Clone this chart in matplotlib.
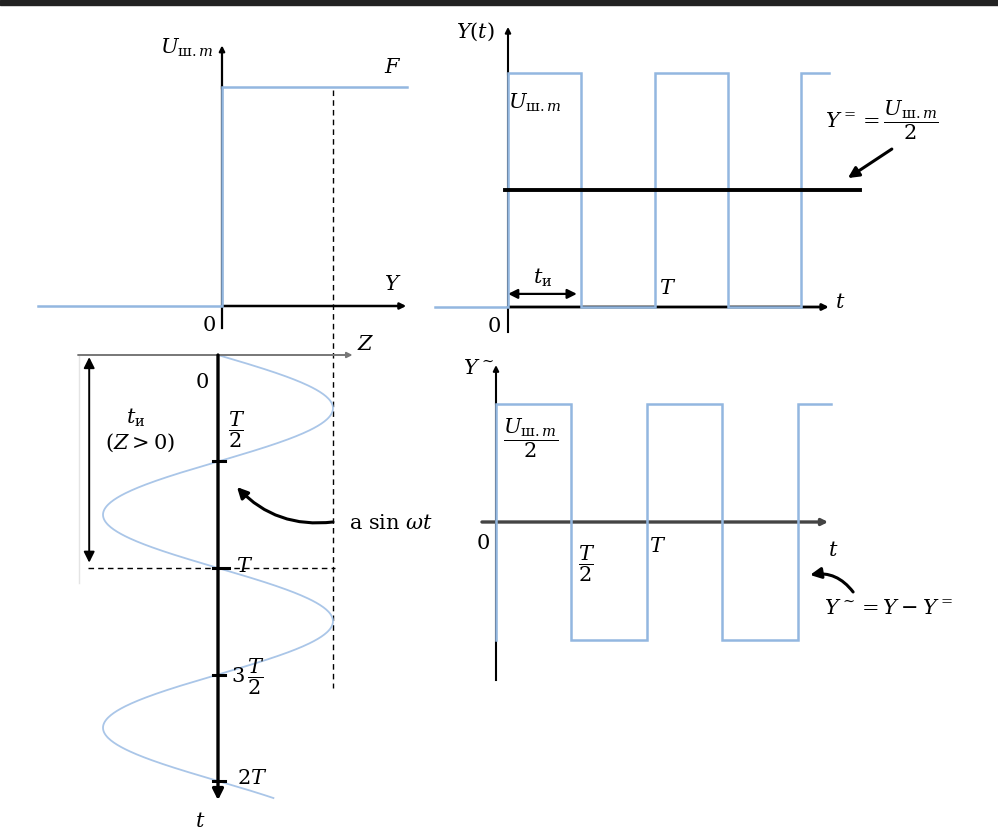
import numpy as np
import matplotlib
matplotlib.use("Agg")
import matplotlib.pyplot as plt
from matplotlib.patches import Rectangle

plt.rcParams['font.family'] = ['DejaVu Serif']
plt.rcParams['mathtext.fontset'] = 'custom'
plt.rcParams['mathtext.rm'] = 'DejaVu Serif'
plt.rcParams['mathtext.it'] = 'DejaVu Serif:italic'
plt.rcParams['mathtext.bf'] = 'DejaVu Serif:bold'

# ---------------- data ----------------
# transfer characteristic (Z -> Y), Z in units of amplitude a, Y in units of U_ш.m
char_z = [-1.66, 0.0, 0.0, 1.67]
char_y = [0.0, 0.0, 1.0, 1.0]

# Y(t): pulse train, t in units of T, Y in units of U_ш.m
pulse_t = [-0.5, 0.0, 0.0, 0.5, 0.5, 1.0, 1.0, 1.5, 1.5, 2.0, 2.0, 2.19]
pulse_y = [0.0, 0.0, 1.0, 1.0, 0.0, 0.0, 1.0, 1.0, 0.0, 0.0, 1.0, 1.0]
mean_level = 0.5          # Y= = U_ш.m / 2
mean_span = [-0.02, 2.40]

# Y~(t): alternating part, in units of U_ш.m/2
ac_t = [0.0, 0.0, 0.5, 0.5, 1.0, 1.0, 1.5, 1.5, 2.0, 2.0, 2.22]
ac_y = [-1.0, 1.0, 1.0, -1.0, -1.0, 1.0, 1.0, -1.0, -1.0, 1.0, 1.0]

# Z(t) = a sin(wt): amplitude a = 1, period T = 1, shown over 0..2.08 T
sine_amp = 1.0
sine_period = 1.0
sine_duration = 2.08
tick_times = [0.5, 1.0, 1.5, 2.0]

W, H = 998, 830
fig = plt.figure(figsize=(W / 100, H / 100), dpi=100)

BLUE = '#93b7e0'
SINE = '#aac6e8'


def overlay(x0, sx, y0, sy):
    """Transparent full-figure axes: pixel_x = x0 + sx*x, pixel_y(from top) = y0 - sy*y."""
    ax = fig.add_axes([0, 0, 1, 1])
    ax.set_xlim(-x0 / sx, (W - x0) / sx)
    ax.set_ylim((y0 - H) / sy, y0 / sy)
    ax.axis('off')
    return ax


def arrow(ax, start, end, lw=1.5, color='k', ms=10, style='-|>', z=3, cs=None):
    props = dict(arrowstyle=style, lw=lw, color=color, mutation_scale=ms,
                 shrinkA=0, shrinkB=0)
    if cs:
        props['connectionstyle'] = cs
    ax.annotate('', xy=end, xytext=start, arrowprops=props, zorder=z,
                annotation_clip=False)


FS = 15

# ---------------- top band ----------------
fig.add_artist(Rectangle((0, 1 - 5 / H), 1, 5 / H, transform=fig.transFigure,
                         color='#222222', zorder=10))

# ---------------- panel A: characteristic ----------------
axA = overlay(222, 111, 306, 219)
axA.plot([0, 0], [-0.10, 1.0], color='k', lw=1.6, zorder=2)
arrow(axA, (0, 0.99), (0, 1.19), lw=1.6, ms=8)
arrow(axA, (0, 0), (1.66, 0), lw=1.8, ms=9)
axA.plot(char_z, char_y, color=BLUE, lw=1.8, zorder=4, solid_joinstyle='miter')
axA.text(-0.315, 1.178, r'$U_{\mathrm{ш}.m}$', fontsize=FS, ha='center', va='center')
axA.text(1.54, 1.09, r'$F$', fontsize=FS, ha='center', va='center')
axA.text(1.54, 0.096, r'$Y$', fontsize=FS, ha='center', va='center')
axA.text(-0.117, -0.087, '0', fontsize=FS, ha='center', va='center')

# ---------------- panel D: sine input ----------------
axD = overlay(218, 115, 355, -213)
tt = np.linspace(0, sine_duration, 600)
axD.plot(sine_amp * np.sin(2 * np.pi * tt / sine_period), tt, color=SINE, lw=1.3, zorder=2)
# Z axis
arrow(axD, (-1.217, 0), (1.17, 0), lw=1.4, color='#777777', ms=8)
axD.text(1.28, -0.047, r'$Z$', fontsize=FS, ha='center', va='center')
# t axis
arrow(axD, (0, 0), (0, 2.09), lw=2.4, ms=16, z=4)
for tk in tick_times:
    axD.plot([-0.045, 0.06 if tk != 1.0 else 0.10], [tk, tk], color='k', lw=2.2, zorder=4)
axD.text(-0.157, 2.19, r'$t$', fontsize=FS, ha='center', va='center')
axD.text(-0.14, 0.13, '0', fontsize=FS, ha='center', va='center')
axD.text(0.165, 0.35, r'$\dfrac{T}{2}$', fontsize=FS, ha='center', va='center')
axD.text(0.235, 0.995, r'$T$', fontsize=FS, ha='center', va='center')
axD.text(0.26, 1.51, r'$3\,\dfrac{T}{2}$', fontsize=FS, ha='center', va='center')
axD.text(0.30, 1.99, r'$2T$', fontsize=FS, ha='center', va='center')
# dashed guides
axD.plot([1.0, 1.0], [-1.244, 1.563], color='k', lw=1.0, ls=(0, (4, 3)), zorder=1)
axD.plot([-1.13, 1.02], [1.0, 1.0], color='k', lw=1.0, ls=(0, (4, 3)), zorder=1)
axD.plot([-1.21, -1.21], [0.0, 1.07], color='#e4e4e4', lw=1.0, zorder=0)
# t_и span
arrow(axD, (-1.12, 0.01), (-1.12, 0.975), lw=1.4, ms=16, style='<|-|>')
axD.text(-0.72, 0.296, r'$t_{\mathrm{и}}$', fontsize=FS, ha='center', va='center')
axD.text(-0.68, 0.41, r'$(Z > 0)$', fontsize=FS, ha='center', va='center')
# a sin wt
arrow(axD, (1.0, 0.784), (0.165, 0.62), lw=2.2, ms=16, cs='arc3,rad=-0.25')
axD.text(1.14, 0.79, r'$\mathrm{a\ sin}\ \omega t$', fontsize=FS, ha='left', va='center')

# ---------------- panel B: Y(t) ----------------
axB = overlay(508, 146.5, 307, 234)
axB.plot([0, 0], [-0.107, 1.0], color='k', lw=1.5, zorder=2)
arrow(axB, (0, 0.99), (0, 1.197), lw=1.5, ms=8)
arrow(axB, (0, 0), (2.19, 0), lw=2.0, ms=9)
axB.plot(pulse_t, pulse_y, color=BLUE, lw=1.8, zorder=4, solid_joinstyle='miter')
axB.plot(mean_span, [mean_level, mean_level], color='k', lw=2.8, zorder=5)
axB.text(-0.225, 1.175, r'$Y(t)$', fontsize=FS, ha='center', va='center')
axB.text(0.184, 0.872, r'$U_{\mathrm{ш}.m}$', fontsize=FS, ha='center', va='center')
axB.text(0.24, 0.124, r'$t_{\mathrm{и}}$', fontsize=FS, ha='center', va='center')
arrow(axB, (0.0, 0.056), (0.47, 0.056), lw=1.6, ms=14, style='<|-|>')
axB.text(1.09, 0.081, r'$T$', fontsize=FS, ha='center', va='center')
axB.text(-0.096, -0.085, '0', fontsize=FS, ha='center', va='center')
axB.text(2.27, 0.02, r'$t$', fontsize=FS, ha='center', va='center')
axB.text(2.555, 0.80, r'$Y^{=} = \dfrac{U_{\mathrm{ш}.m}}{2}$', fontsize=FS,
         ha='center', va='center')
arrow(axB, (2.62, 0.675), (2.32, 0.551), lw=2.2, ms=16)

# ---------------- panel C: Y~(t) ----------------
axC = overlay(496, 151, 522, 118)
axC.plot([0, 0], [-1.34, 1.0], color='k', lw=1.5, zorder=2)
arrow(axC, (0, 0.99), (0, 1.33), lw=1.5, ms=8)
arrow(axC, (-0.093, 0), (2.20, 0), lw=2.4, color='#444444', ms=9)
axC.plot(ac_t, ac_y, color=BLUE, lw=1.8, zorder=4, solid_joinstyle='miter')
axC.text(-0.12, 1.30, r'$Y^{\sim}$', fontsize=FS, ha='center', va='center')
axC.text(0.23, 0.71, r'$\dfrac{U_{\mathrm{ш}.m}}{2}$', fontsize=FS, ha='center', va='center')
axC.text(-0.086, -0.18, '0', fontsize=FS, ha='center', va='center')
axC.text(0.60, -0.356, r'$\dfrac{T}{2}$', fontsize=FS, ha='center', va='center')
axC.text(1.07, -0.21, r'$T$', fontsize=FS, ha='center', va='center')
axC.text(2.23, -0.24, r'$t$', fontsize=FS, ha='center', va='center')
axC.text(2.60, -0.73, r'$Y^{\sim} = Y - Y^{=}$', fontsize=FS, ha='center', va='center')
arrow(axC, (2.365, -0.593), (2.08, -0.449), lw=2.2, ms=16, cs='arc3,rad=0.3')

fig.savefig('out.png', dpi=100)
